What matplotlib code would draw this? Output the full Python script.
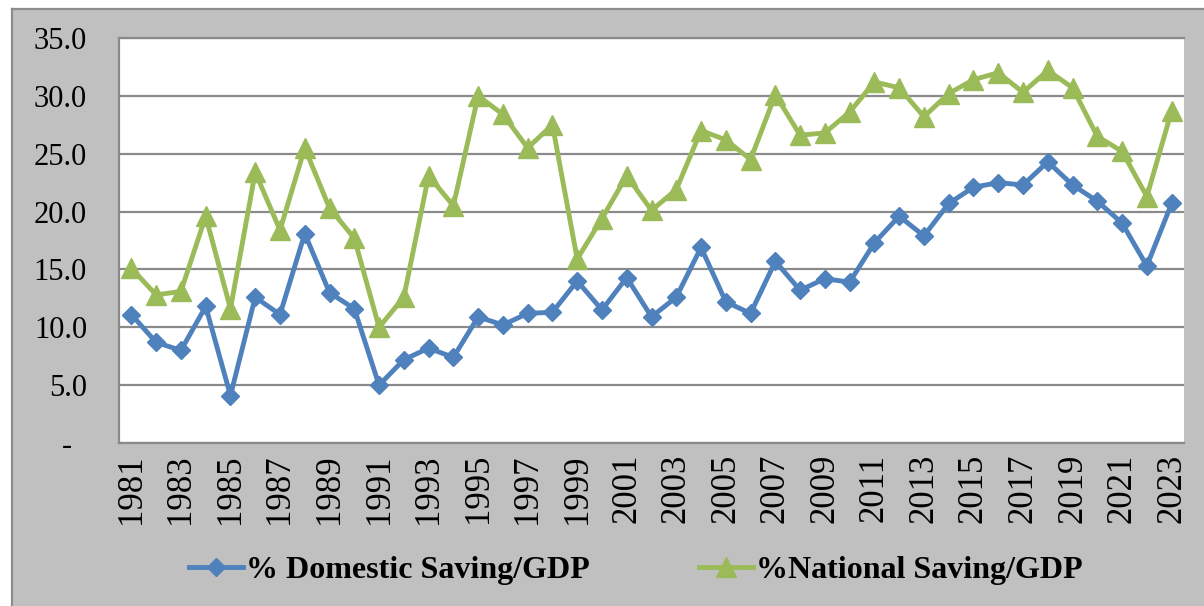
import matplotlib
matplotlib.use("Agg")
import matplotlib.pyplot as plt
from matplotlib.patches import Rectangle
from matplotlib.lines import Line2D
from matplotlib.ticker import FuncFormatter, MultipleLocator

years = list(range(1981, 2024))
domestic = [11.1, 8.7, 8.0, 11.8, 4.1, 12.6, 11.1, 18.1, 13.0, 11.6,
            5.0, 7.2, 8.2, 7.4, 10.9, 10.2, 11.2, 11.3, 14.0, 11.5,
            14.3, 10.9, 12.6, 16.9, 12.2, 11.2, 15.7, 13.2, 14.2, 13.9,
            17.3, 19.6, 17.9, 20.7, 22.1, 22.5, 22.3, 24.3, 22.3, 20.9,
            19.0, 15.3, 20.7]
national = [15.1, 12.8, 13.1, 19.6, 11.6, 23.4, 18.4, 25.5, 20.3, 17.7,
            10.0, 12.6, 23.1, 20.5, 30.0, 28.4, 25.5, 27.5, 15.9, 19.4,
            23.1, 20.1, 21.9, 27.0, 26.2, 24.5, 30.1, 26.6, 26.8, 28.6,
            31.2, 30.7, 28.2, 30.2, 31.4, 32.0, 30.3, 32.2, 30.7, 26.5,
            25.2, 21.3, 28.7]
labels = ["% Domestic Saving/GDP", "%National Saving/GDP"]

BLUE = "#4F81BD"
GREEN = "#9BBB59"
GRAY_BG = "#C0C0C0"
GRID = "#8A8A8A"

plt.rcParams['font.family'] = ['Liberation Serif', 'DejaVu Serif']

W, H = 1204, 606
fig = plt.figure(figsize=(W / 100, H / 100), dpi=100, facecolor="white")

# outer gray chart area
fig.patches.append(Rectangle((11 / W, 0), 1 - 11 / W, 1 - 8 / H,
                             transform=fig.transFigure, facecolor=GRAY_BG,
                             edgecolor="none", zorder=-3))
fig.lines.append(Line2D([11.5 / W, 11.5 / W], [0, 1 - 8.5 / H], transform=fig.transFigure,
                        color="#8C8C8C", lw=1.6, zorder=-2))
fig.lines.append(Line2D([11.5 / W, 1], [1 - 8.5 / H, 1 - 8.5 / H], transform=fig.transFigure,
                        color="#8C8C8C", lw=1.6, zorder=-2))

ax = fig.add_axes([119 / W, 1 - 443 / H, 1065 / W, 405 / H])
ax.set_facecolor("white")
x = list(range(len(years)))
ax.plot(x, domestic, color=BLUE, lw=3.5, marker="D", markersize=9,
        label=labels[0], zorder=3, solid_joinstyle="miter")
ax.plot(x, national, color=GREEN, lw=3.5, marker="^", markersize=14,
        label=labels[1], zorder=3, solid_joinstyle="miter")

ax.set_xlim(-0.5, len(years) - 0.5)
ax.set_ylim(0, 35)
ax.yaxis.set_major_locator(MultipleLocator(5))
ax.yaxis.set_major_formatter(FuncFormatter(lambda v, p: "" if abs(v) < 1e-9 else f"{v:.1f}"))
ax.annotate("-", xy=(0, 0), xycoords=("axes fraction", "data"), xytext=(-52, -3),
            textcoords="offset pixels", ha="center", va="center", fontsize=22)
ax.set_xticks(x[::2])
ax.set_xticklabels([str(y) for y in years[::2]], rotation=90, fontsize=25)
ax.tick_params(axis="y", labelsize=22, length=0, pad=23)
ax.tick_params(axis="x", length=0, pad=8)
ax.grid(axis="y", color=GRID, lw=1.6, zorder=1)
ax.set_axisbelow(True)
for s in ["top", "left", "bottom"]:
    ax.spines[s].set_color(GRID)
    ax.spines[s].set_linewidth(1.6)
ax.spines["right"].set_visible(False)

leg = fig.legend(loc="center", bbox_to_anchor=(0.528, 1 - 570 / H), ncol=2, frameon=False,
                 prop={"weight": "bold", "size": 23}, handlelength=1.7, handletextpad=0.1,
                 columnspacing=3.4)

fig.savefig("out.png", dpi=100, facecolor="white")
